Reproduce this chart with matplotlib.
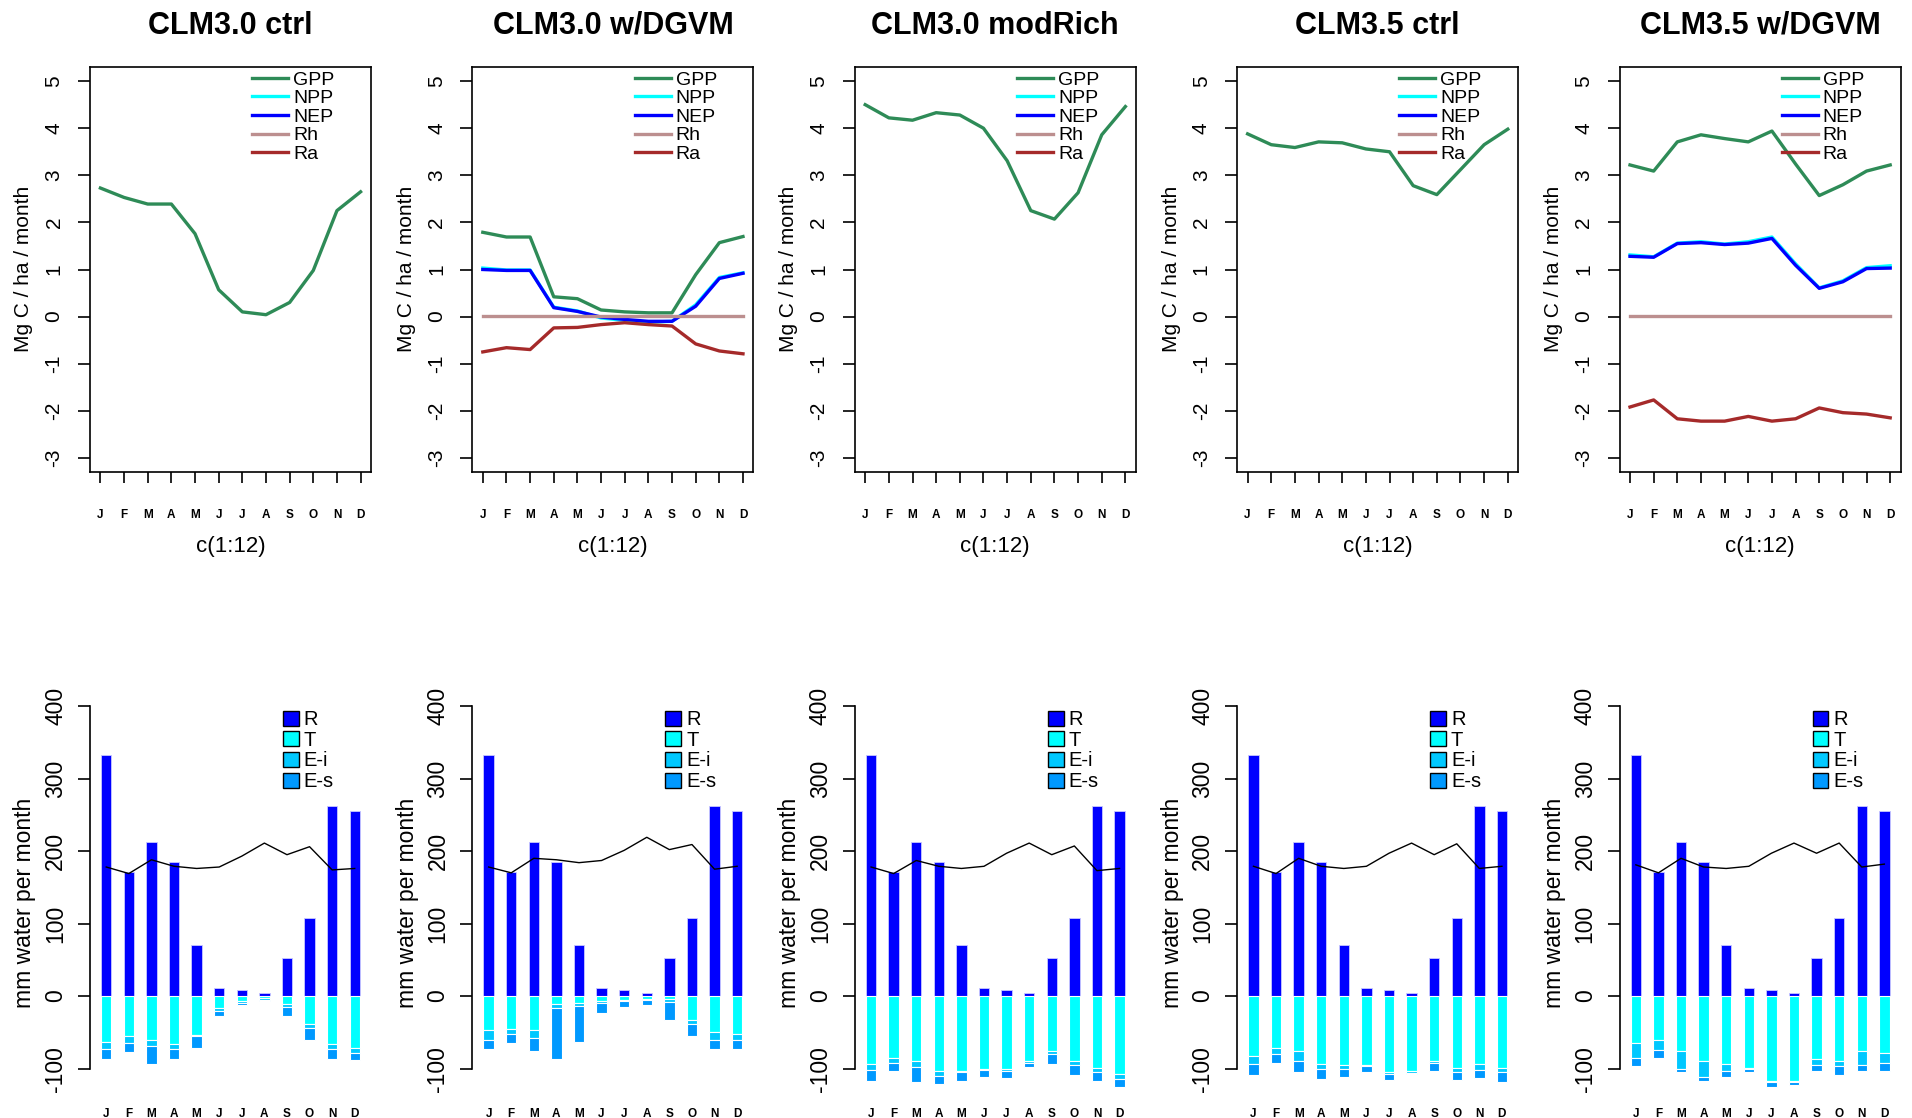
import matplotlib
matplotlib.use('Agg')
import matplotlib.pyplot as plt
from matplotlib.lines import Line2D
from matplotlib.patches import Patch
import numpy as np

plt.rcParams['font.family'] = ['Liberation Sans', 'DejaVu Sans']
plt.rcParams['axes.unicode_minus'] = False

months = ['J', 'F', 'M', 'A', 'M', 'J', 'J', 'A', 'S', 'O', 'N', 'D']
titles = ['CLM3.0 ctrl', 'CLM3.0 w/DGVM', 'CLM3.0 modRich', 'CLM3.5 ctrl', 'CLM3.5 w/DGVM']

# carbon fluxes, Mg C / ha / month (None = not simulated)
gpp_30ctrl = [2.73, 2.53, 2.39, 2.39, 1.76, 0.57, 0.10, 0.04, 0.30, 0.98, 2.25, 2.65]
gpp_30dgvm = [1.79, 1.69, 1.69, 0.42, 0.38, 0.14, 0.10, 0.08, 0.08, 0.89, 1.57, 1.70]
npp_30dgvm = [1.03, 0.99, 0.99, 0.20, 0.12, -0.03, -0.08, -0.12, -0.10, 0.25, 0.83, 0.93]
nep_30dgvm = [1.00, 0.98, 0.98, 0.19, 0.11, -0.01, -0.06, -0.10, -0.10, 0.22, 0.81, 0.92]
rh_30dgvm = [0.02] * 12
ra_30dgvm = [-0.75, -0.66, -0.70, -0.24, -0.23, -0.17, -0.13, -0.17, -0.20, -0.58, -0.73, -0.79]
gpp_30rich = [4.50, 4.22, 4.17, 4.33, 4.28, 4.00, 3.31, 2.25, 2.07, 2.63, 3.86, 4.46]
gpp_35ctrl = [3.88, 3.65, 3.59, 3.71, 3.69, 3.56, 3.50, 2.78, 2.59, 3.12, 3.65, 3.98]
gpp_35dgvm = [3.22, 3.09, 3.71, 3.86, 3.78, 3.71, 3.94, 3.24, 2.57, 2.80, 3.09, 3.22]
npp_35dgvm = [1.31, 1.27, 1.56, 1.59, 1.54, 1.59, 1.69, 1.12, 0.61, 0.76, 1.04, 1.08]
nep_35dgvm = [1.28, 1.26, 1.55, 1.57, 1.53, 1.56, 1.66, 1.09, 0.60, 0.74, 1.02, 1.03]
rh_35dgvm = [0.02] * 12
ra_35dgvm = [-1.92, -1.77, -2.17, -2.22, -2.22, -2.12, -2.22, -2.17, -1.94, -2.04, -2.07, -2.15]

# water fluxes, mm per month
runoff = [333, 171, 212, 185, 70, 11.5, 8, 4, 52, 108, 262, 255]

t_30ctrl = [63, 55, 61, 66, 53, 17, 7, 3, 11, 39, 66, 71]
ei_30ctrl = [10, 9, 8, 7, 2, 3, 2, 2, 4, 5, 7, 7]
es_30ctrl = [14, 13, 24, 14, 16, 8, 3, 2, 12, 16, 14, 10]
line_30ctrl = [178, 169, 188, 179, 176, 178, 193, 211, 195, 206, 174, 176]

t_30dgvm = [47, 45, 47, 11, 9, 7, 5, 4, 4, 33, 50, 52]
ei_30dgvm = [13, 7, 11, 6, 5, 2, 2, 2, 4, 6, 10, 8]
es_30dgvm = [13, 13, 18, 70, 49, 14, 8, 6, 25, 16, 13, 13]
line_30dgvm = [178, 170, 190, 188, 184, 187, 201, 219, 202, 209, 175, 179]

t_30rich = [93, 85, 90, 103, 103, 100, 100, 90, 76, 90, 99, 107]
ei_30rich = [9, 7, 8, 7, 2, 2, 3, 2, 4, 5, 6, 7]
es_30rich = [15, 11, 21, 11, 12, 9, 10, 6, 13, 14, 12, 11]
line_30rich = [178, 169, 187, 179, 176, 179, 197, 211, 195, 207, 173, 176]

t_35ctrl = [82, 71, 76, 93, 95, 95, 105, 103, 90, 99, 93, 99]
ei_35ctrl = [12, 9, 14, 7, 6, 2, 2, 3, 2, 6, 9, 6]
es_35ctrl = [15, 12, 15, 14, 10, 8, 9, 1, 11, 11, 11, 14]
line_35ctrl = [179, 169, 190, 179, 176, 179, 197, 211, 195, 210, 176, 179]

t_35dgvm = [65, 61, 76, 90, 93, 99, 117, 117, 87, 90, 76, 79]
ei_35dgvm = [21, 13, 24, 21, 10, 1, 1, 2, 8, 7, 19, 13]
es_35dgvm = [11, 11, 5, 6, 8, 5, 7, 4, 8, 12, 8, 11]
line_35dgvm = [181, 170, 190, 178, 176, 179, 197, 211, 197, 211, 178, 182]

carbon = [
    (gpp_30ctrl, None, None, None, None),
    (gpp_30dgvm, npp_30dgvm, nep_30dgvm, rh_30dgvm, ra_30dgvm),
    (gpp_30rich, None, None, None, None),
    (gpp_35ctrl, None, None, None, None),
    (gpp_35dgvm, npp_35dgvm, nep_35dgvm, rh_35dgvm, ra_35dgvm),
]
water = [
    (t_30ctrl, ei_30ctrl, es_30ctrl, line_30ctrl),
    (t_30dgvm, ei_30dgvm, es_30dgvm, line_30dgvm),
    (t_30rich, ei_30rich, es_30rich, line_30rich),
    (t_35ctrl, ei_35ctrl, es_35ctrl, line_35ctrl),
    (t_35dgvm, ei_35dgvm, es_35dgvm, line_35dgvm),
]

c_names = ['GPP', 'NPP', 'NEP', 'Rh', 'Ra']
c_cols = ['seagreen', 'cyan', 'blue', 'rosybrown', 'brown']
w_names = ['R', 'T', 'E-i', 'E-s']
w_cols = ['#0000ff', '#00ffff', '#00c8ff', '#0099ff']

W, H = 1912, 1118
fig = plt.figure(figsize=(W / 100, H / 100), dpi=100)


def px_axes(left, top, width, height):
    return fig.add_axes([left / W, 1 - (top + height) / H, width / W, height / H])


x = np.arange(1, 13)
col_w = 382.4

for i in range(5):
    x0 = 90 + i * col_w

    # ---- carbon panel ----
    ax = px_axes(x0, 67, 281, 405)
    for series, name, col in zip(carbon[i], c_names, c_cols):
        if series is not None:
            ax.plot(x, series, color=col, lw=2.4)
    ax.set_xlim(1 - 0.44, 12 + 0.44)
    ax.set_ylim(-3.3, 5.3)
    ax.set_yticks(range(-3, 6))
    ax.set_xticks(x)
    ax.set_xticklabels(months, fontsize=8.5, fontweight='bold')
    ax.tick_params(axis='x', direction='out', length=8, width=1.2, pad=19)
    ax.tick_params(axis='y', direction='out', length=9, width=1.2, pad=10,
                   labelsize=15, labelrotation=90)
    for lab in ax.get_yticklabels():
        lab.set_va('center')
    for s in ax.spines.values():
        s.set_linewidth(1.2)
    ax.set_title(titles[i], fontsize=22, fontweight='bold', pad=24)
    handles = [Line2D([], [], color=c, lw=2.4) for c in c_cols]
    ax.legend(handles, c_names, loc='upper left', bbox_to_anchor=(0.577, 0.99),
              frameon=False, fontsize=14, borderpad=0, handlelength=1.85,
              handletextpad=0.26, labelspacing=0.05, borderaxespad=0)
    fig.text((x0 - 66) / W, 1 - 269 / H, 'Mg C / ha / month', rotation=90,
             ha='center', va='center', fontsize=15)
    fig.text((x0 + 140.5) / W, 1 - 547 / H, 'c(1:12)', ha='center', va='center',
             fontsize=16)

    # ---- water panel ----
    t, ei, es, line = water[i]
    t = np.array(t, float)
    ei = np.array(ei, float)
    es = np.array(es, float)
    bx = px_axes(x0, 691.5, 281, 398.9)
    bw = 0.46
    bx.bar(x, runoff, width=bw, color=w_cols[0], edgecolor='#c8c8ff', lw=0.6)
    bx.bar(x, -t, width=bw, color=w_cols[1], edgecolor='white', lw=0.8)
    bx.bar(x, -ei, bottom=-t, width=bw, color=w_cols[2], edgecolor='white', lw=0.8)
    bx.bar(x, -es, bottom=-t - ei, width=bw, color=w_cols[3], edgecolor='white', lw=0.8)
    bx.plot(x, line, color='black', lw=1.0)
    bx.set_xlim(1 - 0.72, 12 + 0.72)
    bx.set_ylim(-130, 420)
    for k in ['top', 'right', 'bottom']:
        bx.spines[k].set_visible(False)
    bx.spines['left'].set_bounds(-100, 400)
    bx.spines['left'].set_linewidth(1.2)
    bx.set_yticks([-100, 0, 100, 200, 300, 400])
    bx.tick_params(axis='y', direction='out', length=8.5, width=1.2, pad=8,
                   labelsize=16.5, labelrotation=90)
    for lab in bx.get_yticklabels():
        lab.set_va('center')
    bx.set_xticks(x)
    bx.set_xticklabels(months, fontsize=8.5, fontweight='bold')
    bx.tick_params(axis='x', length=0, pad=13)
    patches = [Patch(facecolor=c, edgecolor='black', lw=1.0) for c in w_cols]
    bx.legend(patches, w_names, loc='upper left', bbox_to_anchor=(0.687, 0.953),
              frameon=False, fontsize=14.5, borderpad=0, handlelength=0.78,
              handleheight=0.78, handletextpad=0.25, labelspacing=0.08,
              borderaxespad=0)
    fig.text((x0 - 65) / W, 1 - 903 / H, 'mm water per month', rotation=90,
             ha='center', va='center', fontsize=16.5)

fig.savefig('out.png', dpi=100)
